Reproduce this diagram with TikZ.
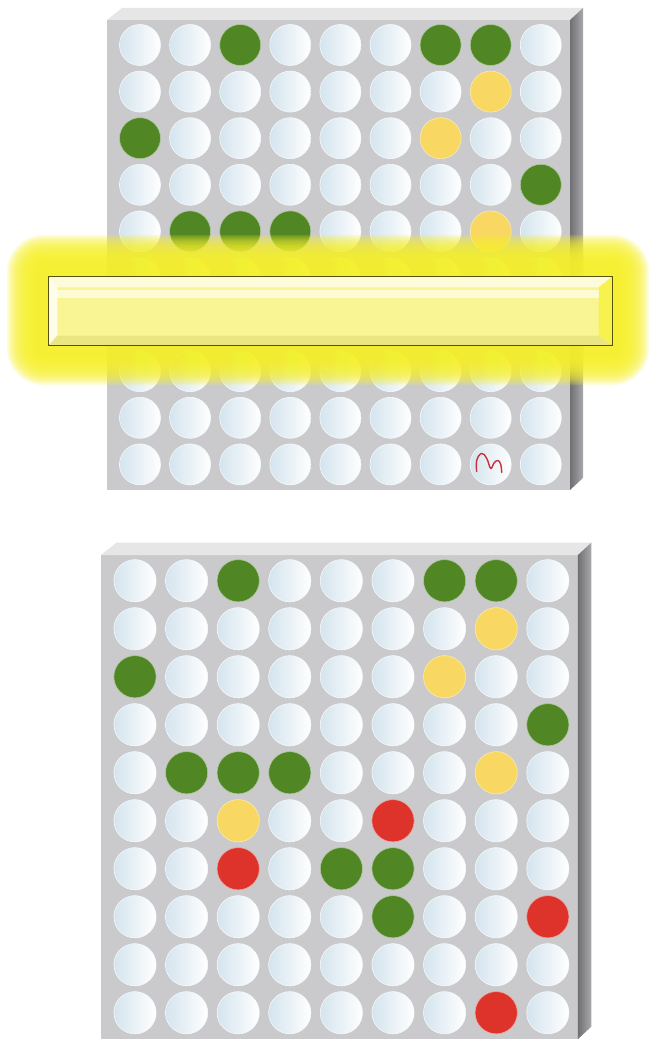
\documentclass[tikz,border=0pt]{standalone}
\usetikzlibrary{positioning}

\definecolor{platecol}{RGB}{202,202,204}
\definecolor{platerim}{RGB}{230,230,231}
\definecolor{plateedge}{RGB}{112,112,116}
\definecolor{wellcol}{RGB}{212,228,238}
\definecolor{hitgreen}{RGB}{80,134,36}
\definecolor{hityellow}{RGB}{248,215,98}
\definecolor{hitred}{RGB}{221,51,42}
\definecolor{glowcol}{RGB}{246,240,46}
\definecolor{barfill}{RGB}{249,245,148}
\definecolor{barline}{RGB}{88,82,12}
\definecolor{inkred}{RGB}{200,48,60}

% plate body: face, top edge and right side (one unit = one pixel)
\newcommand{\plateframe}{%
  \fill[platecol] (0,0) rectangle (463,470);
  \fill[platerim] (0,0) -- (15,-12) -- (476,-12) -- (463,0) -- cycle;
  \shade[left color=plateedge, right color=plateedge!60!white]
    (463,0) -- (476,-12) -- (476,458) -- (463,470) -- cycle;
}

\begin{document}
\begin{tikzpicture}[
  x=0.03cm, y=-0.03cm,
  wellfill/.style={left color=wellcol, right color=white, draw=white!80!wellcol},
  well/.style={circle, minimum size=1.23cm, inner sep=0pt, line width=0.5pt, wellfill},
  greenwell/.style={wellfill/.style={fill=hitgreen, draw=hitgreen!45!white}},
  yellowwell/.style={wellfill/.style={fill=hityellow, draw=hityellow!50!white}},
  redwell/.style={wellfill/.style={fill=hitred, draw=hitred!45!white}},
  glow/.style={fill=glowcol, fill opacity=0.17},
  reader/.style={rectangle, minimum width=16.89cm, minimum height=2.04cm,
    inner sep=0pt, fill=barfill, draw=barline, line width=1pt},
  squiggle/.style={inkred, line width=1.2pt, line cap=round, line join=round},
  % hits read on both plates (rows 1-5)
  u1-3/.style=greenwell, u1-7/.style=greenwell, u1-8/.style=greenwell,
  u2-8/.style=yellowwell,
  u3-1/.style=greenwell, u3-7/.style=yellowwell,
  u4-9/.style=greenwell,
  u5-2/.style=greenwell, u5-3/.style=greenwell, u5-4/.style=greenwell,
  u5-8/.style=yellowwell,
  % hits on the lower plate only (rows 6-10)
  l6-3/.style=yellowwell, l6-6/.style=redwell,
  l7-3/.style=redwell, l7-5/.style=greenwell, l7-6/.style=greenwell,
  l8-6/.style=greenwell, l8-9/.style=redwell,
  l10-8/.style=redwell,
]
\useasboundingbox (0,0) rectangle (656,1040);

% upper plate, half read
\begin{scope}[shift={(107,20)}]
  \plateframe
  \foreach \r in {1,...,10}
    \foreach \c in {1,...,9}
      \node[u\r-\c/.try, well] (t-\r-\c) at ({33+50.1*(\c-1)},{25+46.6*(\r-1)}) {};
\end{scope}

% pen mark on one well
\draw[squiggle, shift={(t-10-8.center)}] plot[smooth, tension=0.7]
  coordinates {(-14,7) (-14,-4) (-9,-11) (-4,-6) (0,4) (3,-1) (7,-4) (10,0) (11,8)};

% lower plate, fully read
\begin{scope}[shift={(101,555)}, scale=1.03, transform shape]
  \plateframe
  \foreach \r in {1,...,10}
    \foreach \c in {1,...,9}
      \node[u\r-\c/.try, l\r-\c/.try, well] (b-\r-\c) at ({33+50.1*(\c-1)},{25+46.6*(\r-1)}) {};
\end{scope}

% glow around the reader bar
\coordinate (glow-nw) at (34,262);
\coordinate (glow-se) at (622,358);
\foreach \i in {0,...,17} {
  \pgfmathsetmacro\rc{8+1.4*\i}
  \fill[glow, rounded corners=\rc pt]
    ([shift={(-1.6*\i,-1.6*\i)}]glow-nw) rectangle ([shift={(1.6*\i,1.6*\i)}]glow-se);
}

% reader bar with bevelled edges
\node[reader] (reader) at (330.5,311) {};
\coordinate (in-nw) at ([shift={(9,11)}]reader.north west);
\coordinate (in-se) at ([shift={(-14,-10)}]reader.south east);
\coordinate (in-ne) at (in-se |- in-nw);
\coordinate (in-sw) at (in-nw |- in-se);
\fill[barfill!35!white] (reader.north west) -- (reader.north east) -- (in-ne) -- (in-nw) -- cycle;
\fill[barfill!20!white] (reader.north west) -- (in-nw) -- (in-sw) -- (reader.south west) -- cycle;
\fill[barfill!88!olive] (reader.south west) -- (reader.south east) -- (in-se) -- (in-sw) -- cycle;
\fill[glowcol!85!white] (reader.north east) -- (reader.south east) -- (in-se) -- (in-ne) -- cycle;
\fill[white, opacity=0.6] ([shift={(0,3)}]in-nw) rectangle ([shift={(0,11)}]in-ne);
\draw[barline, line width=1pt] (reader.north west) rectangle (reader.south east);
\end{tikzpicture}
\end{document}
